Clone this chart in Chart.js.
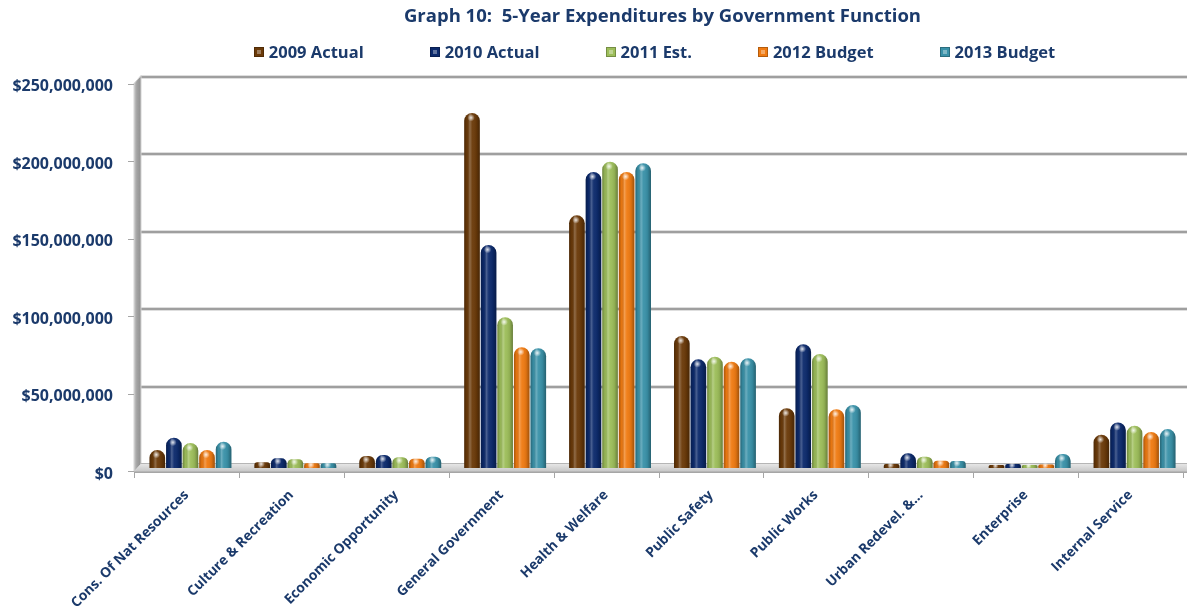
<!DOCTYPE html>
<html>
<head>
<meta charset="utf-8">
<title>5-Year Expenditures by Government Function</title>
<script src="https://cdn.jsdelivr.net/npm/chart.js@4.4.1/dist/chart.umd.min.js"></script>
<style>
  html, body { margin: 0; padding: 0; background: #ffffff; }
  #wrap { width: 1187px; height: 608px; position: relative; }
</style>
</head>
<body>
<div id="wrap"><canvas id="expChart" width="1187" height="608"></canvas></div>
<script>
// Government functions (x categories)
const categories = [
  'Cons. Of Nat Resources', 'Culture & Recreation', 'Economic Opportunity',
  'General Government', 'Health & Welfare', 'Public Safety', 'Public Works',
  'Urban Redevel. &...', 'Enterprise', 'Internal Service'
];

// Series names, in legend order
const seriesNames = ['2009 Actual', '2010 Actual', '2011 Est.', '2012 Budget', '2013 Budget'];

// Expenditures in dollars, one value per function
const actual2009 = [11600000, 3700000, 7700000, 229000000, 163000000, 85200000, 38500000, 2600000, 2000000, 21400000];
const actual2010 = [19500000, 6300000, 8400000, 143900000, 191000000, 70100000, 79800000, 9500000, 2600000, 29400000];
const est2011    = [16100000, 5600000, 6900000, 97200000, 197600000, 71800000, 73500000, 7300000, 2000000, 27300000];
const budget2012 = [11600000, 3000000, 6000000, 77900000, 191000000, 68600000, 37900000, 4700000, 2300000, 23200000];
const budget2013 = [17000000, 3000000, 7300000, 77200000, 196600000, 70800000, 40600000, 4500000, 9000000, 25100000];

// Value axis
const yMin = 0;
const yMax = 250000000;
const yStep = 50000000;

const seriesValues = [actual2009, actual2010, est2011, budget2012, budget2013];
const seriesColors = ['#6B3A09', '#0C2A6C', '#9DBE5A', '#F07B12', '#3A92A9'];
const textNavy = '#1B3A6B';
const wallGray = '#a6a6a6';

// Bars stand at mid-depth of the floor; the front edge sits this far to the left
const midDepth = 4;

// Back wall, side wall, floor and axis ticks drawn under the bars
const frame3d = {
  id: 'frame3d',
  beforeDatasetsDraw(chart) {
    const c = chart.ctx;
    const a = chart.chartArea;
    const ys = chart.scales.y;
    const depthX = 7, depthY = 8;
    const floorFront = ys.getPixelForValue(0) + 4;
    const floorBack = floorFront - depthY;
    const wallX = a.left - midDepth;
    const right = chart.width;
    c.save();

    // back wall gridlines
    for (let v = yStep; v <= yMax; v += yStep) {
      const y = Math.round(ys.getPixelForValue(v) - 4);
      c.fillStyle = '#dedede';
      c.fillRect(wallX + depthX, y - 2, right - wallX - depthX, 1);
      c.fillRect(wallX + depthX, y + 1, right - wallX - depthX, 1);
      c.fillStyle = '#9f9f9f';
      c.fillRect(wallX + depthX, y - 1, right - wallX - depthX, 2);
    }

    // side wall
    const topFront = ys.getPixelForValue(yMax) + 3;
    const gWall = c.createLinearGradient(wallX, 0, wallX + depthX, 0);
    gWall.addColorStop(0, '#c9c9c9');
    gWall.addColorStop(0.4, '#a3a3a3');
    gWall.addColorStop(1, '#8f8f8f');
    c.fillStyle = gWall;
    c.beginPath();
    c.moveTo(wallX, topFront);
    c.lineTo(wallX + depthX, topFront - depthY);
    c.lineTo(wallX + depthX, floorBack);
    c.lineTo(wallX, floorFront);
    c.closePath();
    c.fill();
    c.strokeStyle = '#d4d4d4';
    c.lineWidth = 1;
    c.stroke();

    // floor
    const gFloor = c.createLinearGradient(0, floorBack, 0, floorFront);
    gFloor.addColorStop(0, '#e6e6e6');
    gFloor.addColorStop(1, '#c4c4c4');
    c.fillStyle = gFloor;
    c.beginPath();
    c.moveTo(wallX, floorFront);
    c.lineTo(wallX + depthX, floorBack);
    c.lineTo(right, floorBack);
    c.lineTo(right, floorFront);
    c.closePath();
    c.fill();
    c.fillStyle = '#b5b5b5';
    c.fillRect(wallX + depthX, floorBack - 1, right - wallX - depthX, 1);
    c.fillStyle = wallGray;
    c.fillRect(wallX, floorFront - 0.5, right - wallX, 1.5);

    // value axis tick marks
    c.fillStyle = wallGray;
    for (let v = yMin; v <= yMax; v += yStep) {
      const y = Math.round(ys.getPixelForValue(v) + 3);
      c.fillRect(wallX - 6, y, 6, 1);
    }

    // category boundary tick marks
    const catW = (a.right - a.left) / categories.length;
    for (let i = 0; i <= categories.length; i++) {
      const x = Math.round(wallX + i * catW);
      c.fillRect(x, floorFront, 1, 6);
    }
    c.restore();
  }
};

// Cylinder shading on top of each bar
const barShine = {
  id: 'barShine',
  afterDatasetsDraw(chart) {
    const c = chart.ctx;
    c.save();
    chart.data.datasets.forEach((ds, di) => {
      const meta = chart.getDatasetMeta(di);
      meta.data.forEach(el => {
        const {x, y, base, width} = el.getProps(['x', 'y', 'base', 'width'], true);
        const l = x - width / 2;
        const h = base - y;
        if (h <= 0) return;
        const rad = Math.min(8, width / 2, h / 2);
        c.beginPath();
        c.roundRect(l, y, width, h, [rad, rad, 0, 0]);
        const g = c.createLinearGradient(l, 0, l + width, 0);
        g.addColorStop(0, 'rgba(0,0,0,0.30)');
        g.addColorStop(0.18, 'rgba(0,0,0,0.04)');
        g.addColorStop(0.36, 'rgba(255,255,255,0.26)');
        g.addColorStop(0.52, 'rgba(255,255,255,0.04)');
        g.addColorStop(0.78, 'rgba(0,0,0,0.08)');
        g.addColorStop(1, 'rgba(0,0,0,0.34)');
        c.fillStyle = g;
        c.fill();
        // specular spot on the cap
        const sx = x - width * 0.06;
        const sy = y + Math.min(rad * 0.6, h * 0.4);
        const sr = Math.min(width * 0.24, h * 0.6 + 1);
        const rg = c.createRadialGradient(sx, sy, 0, sx, sy, sr);
        rg.addColorStop(0, 'rgba(255,255,255,0.85)');
        rg.addColorStop(1, 'rgba(255,255,255,0)');
        c.fillStyle = rg;
        c.beginPath();
        c.arc(sx, sy, sr, 0, Math.PI * 2);
        c.fill();
      });
    });
    c.restore();
  }
};

// Series key drawn as one row under the title
const seriesKey = {
  id: 'seriesKey',
  afterDraw(chart) {
    const c = chart.ctx;
    const a = chart.chartArea;
    const box = 10, textGap = 5, itemGap = 66, y = 52;
    c.save();
    c.font = 'bold 16.5px "Open Sans"';
    c.textBaseline = 'middle';
    c.textAlign = 'left';
    const widths = seriesNames.map(n => box + textGap + c.measureText(n).width);
    const total = widths.reduce((s, w) => s + w, 0) + itemGap * (widths.length - 1);
    let x = (a.left + a.right) / 2 - 2 * midDepth - total / 2;
    seriesNames.forEach((name, i) => {
      const bx = Math.round(x), by = Math.round(y - box / 2);
      c.fillStyle = seriesColors[i];
      c.fillRect(bx, by, box, box);
      c.fillStyle = 'rgba(255,255,255,0.35)';
      c.fillRect(bx + 3, by + 3, box - 6, box - 6);
      c.strokeStyle = 'rgba(0,0,0,0.25)';
      c.lineWidth = 1;
      c.strokeRect(bx + 0.5, by + 0.5, box - 1, box - 1);
      c.fillStyle = textNavy;
      c.fillText(name, x + box + textGap, y + 1);
      x += widths[i] + itemGap;
    });
    c.restore();
  }
};

function build() {
  Chart.defaults.font.family = "'Open Sans', sans-serif";
  const ctx = document.getElementById('expChart').getContext('2d');
  new Chart(ctx, {
    type: 'bar',
    data: {
      labels: categories,
      datasets: seriesNames.map((name, i) => ({
        label: name,
        data: seriesValues[i],
        backgroundColor: seriesColors[i],
        borderWidth: 0,
        borderRadius: {topLeft: 8, topRight: 8, bottomLeft: 0, bottomRight: 0},
        borderSkipped: false,
        categoryPercentage: 0.79,
        barPercentage: 0.94
      }))
    },
    options: {
      responsive: false,
      animation: false,
      layout: {padding: {left: 0, right: -midDepth, top: 0, bottom: 0}},
      plugins: {
        legend: {display: false},
        tooltip: {enabled: false},
        title: {
          display: true,
          text: 'Graph 10:  5-Year Expenditures by Government Function',
          fullSize: false,
          color: textNavy,
          font: {size: 18.5, weight: 'bold'},
          padding: {top: 6, bottom: 52.3}
        }
      },
      scales: {
        x: {
          grid: {display: false, drawTicks: false},
          border: {display: false},
          ticks: {
            color: textNavy,
            font: {size: 13.75, weight: 'bold'},
            minRotation: 45,
            maxRotation: 45,
            autoSkip: false,
            padding: 19,
            labelOffset: -midDepth
          },
          afterFit(scale) { scale.height = 140; }
        },
        y: {
          min: yMin,
          max: yMax,
          grid: {display: false, drawTicks: false},
          border: {display: false},
          ticks: {
            stepSize: yStep,
            color: textNavy,
            font: {size: 16, weight: 'bold'},
            padding: 21 + midDepth,
            labelOffset: 6,
            callback: v => '$' + Number(v).toLocaleString('en-US')
          },
          afterFit(scale) { scale.width = 134 + midDepth; }
        }
      }
    },
    plugins: [frame3d, barShine, seriesKey]
  });
}

document.fonts.load('bold 16px "Open Sans"').then(build, build);
</script>
</body>
</html>
